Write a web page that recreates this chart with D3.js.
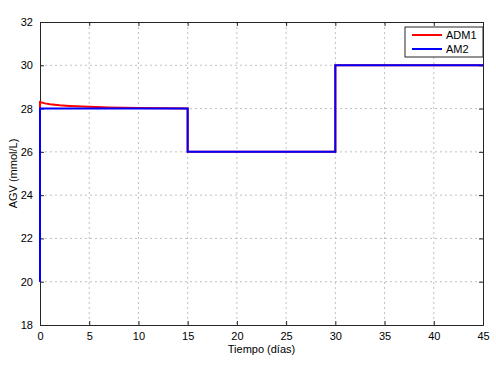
<!DOCTYPE html>
<html>
<head>
<meta charset="utf-8">
<script src="https://cdn.jsdelivr.net/npm/d3@7"></script>
<style>
  body { margin: 0; background: #fff; }
  svg { display: block; font-family: "Liberation Sans", Arial, sans-serif; }
</style>
</head>
<body>
<div id="chart"></div>
<script>
// data
const xTicks = [0, 5, 10, 15, 20, 25, 30, 35, 40, 45];
const yTicks = [18, 20, 22, 24, 26, 28, 30, 32];
const seriesNames = ["ADM1", "AM2"];
const admTime = [0, 0, 0.5, 1, 2, 3, 5, 7, 10, 13, 15, 15, 30, 30, 45];
const admValue = [20, 28.3, 28.24, 28.2, 28.15, 28.12, 28.08, 28.05, 28.03, 28.01, 28, 26, 26, 30, 30];
const am2Time = [0, 0, 15, 15, 30, 30, 45];
const am2Value = [20, 28, 28, 26, 26, 30, 30];

const colorPalette = {
  adm: "#ff0000",
  am2: "#0000ff",
  axis: "#262626",
  grid: "#c0c0c0",
  text: "#000",
};

const config = {
  width: 496,
  height: 367,
  left: 40,
  top: 22,
  right: 483,
  bottom: 325,
  fontSize: 11,
};

const svg = d3.select("#chart")
  .append("svg")
  .attr("width", config.width)
  .attr("height", config.height);

const x = d3.scaleLinear().domain([0, 45]).range([config.left, config.right]);
const y = d3.scaleLinear().domain([18, 32]).range([config.bottom, config.top]);

// grid
svg.append("g")
  .selectAll("line")
  .data(xTicks.slice(1, -1))
  .enter()
  .append("line")
  .attr("x1", (d) => x(d)).attr("x2", (d) => x(d))
  .attr("y1", config.top).attr("y2", config.bottom)
  .attr("stroke", colorPalette.grid)
  .attr("stroke-dasharray", "2,3");

svg.append("g")
  .selectAll("line")
  .data(yTicks.slice(1, -1))
  .enter()
  .append("line")
  .attr("x1", config.left).attr("x2", config.right)
  .attr("y1", (d) => y(d)).attr("y2", (d) => y(d))
  .attr("stroke", colorPalette.grid)
  .attr("stroke-dasharray", "2,3");

// axes, ticks pointing inward like matlab
const xAxisBottom = d3.axisBottom(x).tickValues(xTicks).tickSize(-4).tickPadding(7);
const xAxisTop = d3.axisTop(x).tickValues(xTicks).tickSize(-4).tickFormat("");
const yAxisLeft = d3.axisLeft(y).tickValues(yTicks).tickSize(-4).tickPadding(7);
const yAxisRight = d3.axisRight(y).tickValues(yTicks).tickSize(-4).tickFormat("");

svg.append("g").attr("class", "xAxis")
  .attr("transform", `translate(0,${config.bottom})`).call(xAxisBottom);
svg.append("g").attr("class", "xAxisTop")
  .attr("transform", `translate(0,${config.top})`).call(xAxisTop);
svg.append("g").attr("class", "yAxis")
  .attr("transform", `translate(${config.left},0)`).call(yAxisLeft);
svg.append("g").attr("class", "yAxisRight")
  .attr("transform", `translate(${config.right},0)`).call(yAxisRight);

svg.selectAll(".domain").attr("stroke", colorPalette.axis);
svg.selectAll(".tick line").attr("stroke", colorPalette.axis);
svg.selectAll(".tick text")
  .style("font-size", `${config.fontSize}px`)
  .style("font-family", "Liberation Sans, Arial, sans-serif")
  .attr("fill", colorPalette.text);

// lines
const line = d3.line().x((d) => x(d[0])).y((d) => y(d[1]));
const admData = admTime.map((t, i) => [t, admValue[i]]);
const am2Data = am2Time.map((t, i) => [t, am2Value[i]]);

svg.append("path")
  .datum(admData)
  .attr("d", line)
  .attr("fill", "none")
  .attr("stroke", colorPalette.adm)
  .attr("stroke-width", 2);

svg.append("path")
  .datum(am2Data)
  .attr("d", line)
  .attr("fill", "none")
  .attr("stroke", colorPalette.am2)
  .attr("stroke-width", 2);

// axis labels
svg.append("text")
  .text("Tiempo (días)")
  .attr("x", (config.left + config.right) / 2)
  .attr("y", 353)
  .attr("text-anchor", "middle")
  .style("font-size", `${config.fontSize}px`);

svg.append("text")
  .text("AGV (mmol/L)")
  .attr("transform", `translate(17,${(config.top + config.bottom) / 2}) rotate(-90)`)
  .attr("text-anchor", "middle")
  .style("font-size", `${config.fontSize}px`);

// legend
const legend = svg.append("g").attr("class", "legend");
legend.append("rect")
  .attr("x", 405).attr("y", 27)
  .attr("width", 78).attr("height", 30)
  .attr("fill", "#fff")
  .attr("stroke", colorPalette.axis);

const legendColors = [colorPalette.adm, colorPalette.am2];
seriesNames.forEach((name, i) => {
  const ly = 35 + i * 14;
  legend.append("line")
    .attr("x1", 412).attr("x2", 442)
    .attr("y1", ly).attr("y2", ly)
    .attr("stroke", legendColors[i])
    .attr("stroke-width", 2);
  legend.append("text")
    .text(name)
    .attr("x", 446).attr("y", ly + 4)
    .style("font-size", `${config.fontSize}px`);
});
</script>
</body>
</html>
